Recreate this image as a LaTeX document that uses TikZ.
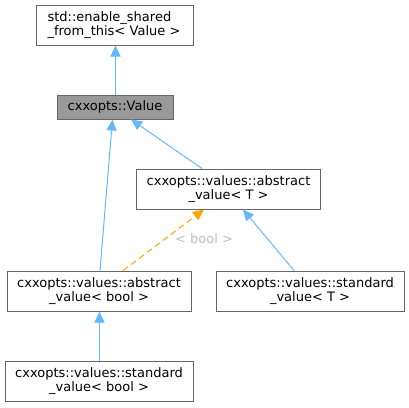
\documentclass[tikz,border=0pt]{standalone}
\usepackage{fontspec}
\setmainfont{DejaVu Sans}
\usetikzlibrary{arrows.meta,calc}
\definecolor{edgeblue}{HTML}{63B8FF}
\definecolor{edgeorange}{HTML}{FFA500}
\definecolor{boxborder}{HTML}{666666}
\definecolor{curfill}{HTML}{999999}
\definecolor{lblgray}{HTML}{BEBEBE}
\tikzset{
  cls/.style={draw=boxborder, line width=1pt, fill=white, inner sep=0pt, align=center,
    font=\fontsize{13}{13.4}\selectfont},
  cur/.style={cls, fill=curfill},
  inh/.style={draw=edgeblue, line width=1pt, -{Triangle[length=11pt,width=10pt,fill=edgeblue]}},
  tmpl/.style={draw=edgeorange, line width=1pt, dash pattern=on 6pt off 4pt, -{Triangle[length=11pt,width=10pt,fill=edgeorange]}},
  lbl/.style={text=lblgray, font=\fontsize{13}{13.4}\selectfont, inner sep=0pt}
}
\begin{document}
\begin{tikzpicture}[x=1pt,y=-1pt]
\useasboundingbox (0,0) rectangle (409,407);
\node[cls, minimum width=157pt, minimum height=40pt, align=left, text width=135pt] (std) at (115,25) {std::enable\_shared\\\_from\_this< Value >};
\node[cur, minimum width=116pt, minimum height=24pt] (val) at (115,107) {cxxopts::Value};
\node[cls, minimum width=184pt, minimum height=40pt] (absT) at (228.5,189) {cxxopts::values::abstract\\\_value< T >};
\node[cls, minimum width=184pt, minimum height=40pt] (absB) at (99,291) {cxxopts::values::abstract\\\_value< bool >};
\node[cls, minimum width=188pt, minimum height=40pt] (stdT) at (310,291) {cxxopts::values::standard\\\_value< T >};
\node[cls, minimum width=188pt, minimum height=40pt] (stdB) at (99,381) {cxxopts::values::standard\\\_value< bool >};
\draw[inh] ($(val.north)+(0.5,0)$) -- ($(std.south)+(0.5,0)$);
\draw[inh] ($(absT.north)+(-26.5,0)$) -- ($(val.south)+(16,0)$);
\draw[inh] ($(absB.north)+(1,0)$) -- ($(val.south)+(-2.5,0)$);
\draw[tmpl] ($(absB.north)+(24,0)$) -- ($(absT.south)+(-24.5,0)$);
\node[lbl] (boollbl) at (204,239) {< bool >};
\draw[inh] ($(stdT.north)+(-16,0)$) -- ($(absT.south)+(14.5,0)$);
\draw[inh] ($(stdB.north)+(0.5,0)$) -- ($(absB.south)+(0.5,0)$);
\end{tikzpicture}
\end{document}
